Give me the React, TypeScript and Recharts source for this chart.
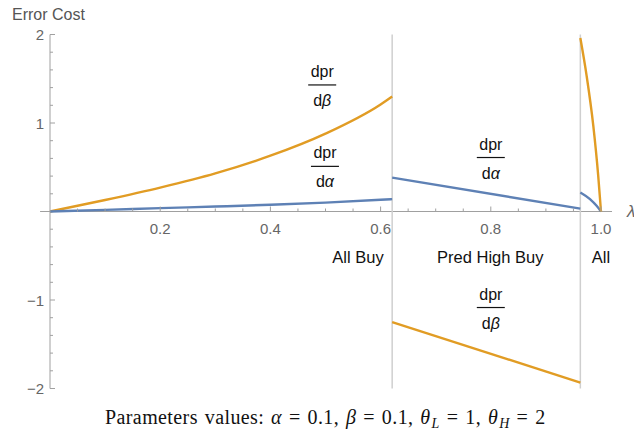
import React from 'react';
import { LineChart, Line, XAxis, YAxis, ReferenceLine, ReferenceDot } from 'recharts';

// Segment boundaries on the lambda axis
const thresholds = [0.621, 0.9625];

// "All Buy" region
const allBuyBeta = [
  { x: 0, y: 0 },
  { x: 0.1, y: 0.13 },
  { x: 0.2, y: 0.27 },
  { x: 0.3, y: 0.43 },
  { x: 0.4, y: 0.63 },
  { x: 0.5, y: 0.88 },
  { x: 0.6, y: 1.21 },
  { x: 0.621, y: 1.3 },
];
const allBuyAlpha = [
  { x: 0, y: 0 },
  { x: 0.1, y: 0.018 },
  { x: 0.2, y: 0.038 },
  { x: 0.3, y: 0.056 },
  { x: 0.4, y: 0.076 },
  { x: 0.5, y: 0.1 },
  { x: 0.6, y: 0.132 },
  { x: 0.621, y: 0.14 },
];

// "Pred High Buy" region
const predHighAlpha = [
  { x: 0.621, y: 0.383 },
  { x: 0.9625, y: 0.033 },
];
const predHighBeta = [
  { x: 0.621, y: -1.249 },
  { x: 0.9625, y: -1.933 },
];

// "All" region
const allAlpha = [
  { x: 0.9625, y: 0.215 },
  { x: 0.98, y: 0.14 },
  { x: 0.992, y: 0.064 },
  { x: 1.0, y: 0 },
];
const allBeta = [
  { x: 0.9625, y: 1.96 },
  { x: 0.974, y: 1.53 },
  { x: 0.986, y: 0.97 },
  { x: 0.995, y: 0.4 },
  { x: 1.0, y: 0 },
];

const xTicks = [0.05, 0.1, 0.15, 0.2, 0.25, 0.3, 0.35, 0.4, 0.45, 0.5, 0.55, 0.6, 0.65, 0.7, 0.75, 0.8, 0.85, 0.9, 0.95, 1.0];
const xTickLabels: Record<string, string> = { '0.2': '0.2', '0.4': '0.4', '0.6': '0.6', '0.8': '0.8', '1': '1.0' };
const yTicks = [-2, -1.8, -1.6, -1.4, -1.2, -1, -0.8, -0.6, -0.4, -0.2, 0.2, 0.4, 0.6, 0.8, 1, 1.2, 1.4, 1.6, 1.8, 2];
const yTickLabels: Record<string, string> = { '-2': '−2', '-1': '−1', '1': '1', '2': '2' };

// fraction labels: [x, y, greek letter]
const fractions: [number, number, string][] = [
  [0.494, 1.43, 'β'],
  [0.499, 0.51, 'α'],
  [0.8, 0.61, 'α'],
  [0.8, -1.085, 'β'],
];
const regions: [number, number, string][] = [
  [0.559, -0.58, 'All Buy'],
  [0.799, -0.58, 'Pred High Buy'],
  [1.0, -0.58, 'All'],
];

const BLUE = '#5E81B5';
const ORANGE = '#E19C24';
const AXIS = '#a0a0a0';
const LABEL = '#666';
const SANS = '"Liberation Sans", Arial, sans-serif';

const W = 634;
const H = 434;
const PLOT_LEFT = 50;
const ZERO_Y = 211.5;

const XTick = (props: any) => {
  const { x, payload } = props;
  const label = xTickLabels[String(Number(payload.value.toFixed(2)))];
  return (
    <g>
      <line x1={x} x2={x} y1={ZERO_Y} y2={ZERO_Y - (label ? 5 : 3)} stroke={AXIS} strokeWidth={1} />
      {label && (
        <text x={x} y={ZERO_Y + 22} textAnchor="middle" fill={LABEL} fontSize={15} fontFamily={SANS}>
          {label}
        </text>
      )}
    </g>
  );
};

const YTick = (props: any) => {
  const { y, payload } = props;
  const label = yTickLabels[String(Number(payload.value.toFixed(2)))];
  return (
    <g>
      <line x1={PLOT_LEFT} x2={PLOT_LEFT + (label ? 5 : 3)} y1={y} y2={y} stroke={AXIS} strokeWidth={1} />
      {label && (
        <text x={PLOT_LEFT - 6} y={y + 5.5} textAnchor="end" fill={LABEL} fontSize={15} fontFamily={SANS}>
          {label}
        </text>
      )}
    </g>
  );
};

const fractionShape = (greek: string) => (p: any) => (
  <g>
    <text x={p.cx} y={p.cy - 8} textAnchor="middle" fill="#111" fontSize={16} fontFamily={SANS}>
      dpr
    </text>
    <line x1={p.cx - 14} x2={p.cx + 14} y1={p.cy} y2={p.cy} stroke="#111" strokeWidth={1.2} />
    <text x={p.cx} y={p.cy + 21} textAnchor="middle" fill="#111" fontSize={16} fontFamily={SANS}>
      d<tspan fontStyle="italic">{greek}</tspan>
    </text>
  </g>
);

const regionShape = (label: string) => (p: any) => (
  <text x={p.cx} y={p.cy} textAnchor="middle" fill="#111" fontSize={16.5} fontFamily={SANS}>
    {label}
  </text>
);

export default function App() {
  const segments = [
    { data: allBuyBeta, color: ORANGE, type: 'monotone' },
    { data: allBuyAlpha, color: BLUE, type: 'monotone' },
    { data: predHighAlpha, color: BLUE, type: 'linear' },
    { data: predHighBeta, color: ORANGE, type: 'linear' },
    { data: allAlpha, color: BLUE, type: 'monotone' },
    { data: allBeta, color: ORANGE, type: 'monotone' },
  ];

  const sub = { fontSize: 14, position: 'relative' as const, top: 4, marginLeft: 1 };

  return (
    <div style={{ position: 'absolute', left: 0, top: 0, width: W, height: H, overflow: 'hidden', background: '#fff' }}>
      <LineChart width={W} height={H} margin={{ top: 34.5, right: 33, bottom: 15.5, left: 10 }}>
        <XAxis
          type="number"
          dataKey="x"
          domain={[0, 1]}
          ticks={xTicks}
          interval={0}
          tick={XTick}
          axisLine={false}
          tickLine={false}
          height={30}
        />
        <YAxis
          type="number"
          domain={[-2, 2]}
          ticks={yTicks}
          interval={0}
          tick={YTick}
          axisLine={{ stroke: AXIS }}
          tickLine={false}
          width={40}
          allowDataOverflow
        />
        <ReferenceLine
          segment={[{ x: -0.018, y: 0 }, { x: 1.02, y: 0 }]}
          stroke={AXIS}
          strokeWidth={1}
          ifOverflow="visible"
        />
        {thresholds.map((t) => (
          <ReferenceLine key={t} x={t} stroke="#cfcfcf" strokeWidth={1.5} />
        ))}
        {segments.map((s, i) => (
          <Line
            key={i}
            data={s.data}
            dataKey="y"
            type={s.type as any}
            stroke={s.color}
            strokeWidth={2.4}
            dot={false}
            activeDot={false}
            isAnimationActive={false}
          />
        ))}
        {fractions.map(([x, y, g], i) => (
          <ReferenceDot key={'f' + i} x={x} y={y} r={0} ifOverflow="visible" shape={fractionShape(g)} />
        ))}
        {regions.map(([x, y, l], i) => (
          <ReferenceDot key={'r' + i} x={x} y={y} r={0} ifOverflow="visible" shape={regionShape(l)} />
        ))}
      </LineChart>
      <div style={{ position: 'absolute', left: 12, top: 6.5, fontFamily: SANS, fontSize: 16, lineHeight: 1, color: '#555', whiteSpace: 'nowrap' }}>
        Error Cost
      </div>
      <div style={{ position: 'absolute', left: 627, top: 202.5, fontFamily: SANS, fontSize: 17, lineHeight: 1, color: LABEL, fontStyle: 'italic' }}>
        λ
      </div>
      <div
        style={{
          position: 'absolute',
          left: 105,
          top: 407,
          fontFamily: '"Liberation Serif", "Times New Roman", serif',
          fontSize: 20,
          lineHeight: 1,
          letterSpacing: 0.4,
          wordSpacing: 1.5,
          color: '#111',
          whiteSpace: 'nowrap',
        }}
      >
        Parameters values: <i>α</i> = 0.1, <i>β</i> = 0.1, <i>θ</i>
        <span style={sub}><i>L</i></span> = 1, <i>θ</i>
        <span style={sub}><i>H</i></span> = 2
      </div>
    </div>
  );
}
